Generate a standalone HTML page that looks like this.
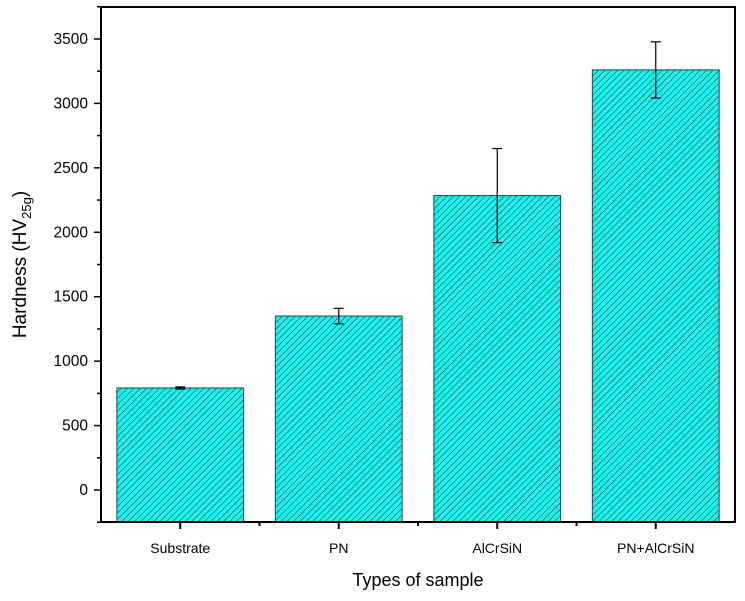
<!DOCTYPE html>
<html><head><meta charset="utf-8"><style>
body{margin:0;background:#fff}
svg{display:block;font-family:"Liberation Sans",Arial,sans-serif}
</style></head><body>
<svg id="chart" width="745" height="601" viewBox="0 0 745 601">
<defs>
<pattern id="hatch" patternUnits="userSpaceOnUse" width="4.5" height="4.5" patternTransform="rotate(45)">
<rect width="4.5" height="4.5" fill="#1ff2ee"/>
<line x1="0" y1="0" x2="0" y2="4.5" stroke="#0f3f3d" stroke-width="1.1"/>
</pattern>
</defs>
<g id="bars"></g>
<g id="axes"></g>
</svg>
<script>
const categories=["Substrate","PN","AlCrSiN","PN+AlCrSiN"];
const values=[792,1350,2285,3260];
const errors=[8,60,365,218];
const yTicks=[0,500,1000,1500,2000,2500,3000,3500];
const L=101,R=735,T=7,B=522;
const yMin=-248,yMax=3748;
function y(v){return B-(v-yMin)/(yMax-yMin)*(B-T);}
function x(i){return L+(i+0.5)/categories.length*(R-L);}
const ns="http://www.w3.org/2000/svg";
function mk(tag,attrs,parent){const e=document.createElementNS(ns,tag);for(const k in attrs)e.setAttribute(k,attrs[k]);parent.appendChild(e);return e;}
const gb=document.getElementById('bars'),ga=document.getElementById('axes');
const bw=(R-L)/categories.length*0.8;
categories.forEach((c,i)=>{
  const r=mk('rect',{x:x(i)-bw/2,y:y(values[i]),width:bw,height:B-y(values[i]),fill:'url(#hatch)',stroke:'#1f4a48','stroke-width':1},gb);
  
  
  const g=mk('g',{stroke:'#000','stroke-width':1.2},gb);
  
  
  const t=y(values[i]+errors[i]),b=y(values[i]-errors[i]),cx=x(i);
  mk('line',{x1:cx,x2:cx,y1:t,y2:b},g);
  mk('line',{x1:cx-5,x2:cx+5,y1:t,y2:t},g);
  mk('line',{x1:cx-5,x2:cx+5,y1:b,y2:b},g);
  const tl=mk('text',{x:cx,y:553,'text-anchor':'middle','font-size':14,fill:'#000'},ga);
  tl.textContent=c;
  
  
  mk('line',{x1:cx,x2:cx,y1:B,y2:B+7,stroke:'#000','stroke-width':2},ga);
  if(i<categories.length-1) mk('line',{x1:(cx+x(i+1))/2,x2:(cx+x(i+1))/2,y1:B,y2:B+4,stroke:'#000','stroke-width':2},ga);
});
const fr=mk('rect',{x:L,y:T,width:R-L,height:B-T,fill:'none',stroke:'#000','stroke-width':2},ga);


yTicks.forEach(v=>{
  mk('line',{x1:L-7,x2:L,y1:y(v),y2:y(v),stroke:'#000','stroke-width':1.5},ga);
  mk('line',{x1:L-4,x2:L,y1:y(v+250),y2:y(v+250),stroke:'#000','stroke-width':1.5},ga);
  const t=mk('text',{x:L-13,y:y(v)+5,'text-anchor':'end','font-size':15.5,fill:'#000'},ga);
  t.textContent=v;
  
  
});
mk('line',{x1:L-4,x2:L,y1:y(-250),y2:y(-250),stroke:'#000','stroke-width':1.5},ga);
const xt=mk('text',{x:(L+R)/2,y:586,'text-anchor':'middle','font-size':18,fill:'#000'},ga);
xt.textContent='Types of sample';


const yt=mk('text',{transform:'translate(26,'+((T+B)/2)+') rotate(-90)','text-anchor':'middle','font-size':19,fill:'#000'},ga);
yt.innerHTML='Hardness (HV<tspan font-size="13" dy="5">25g</tspan><tspan dy="-5">)</tspan>';


</script>
</body></html>
